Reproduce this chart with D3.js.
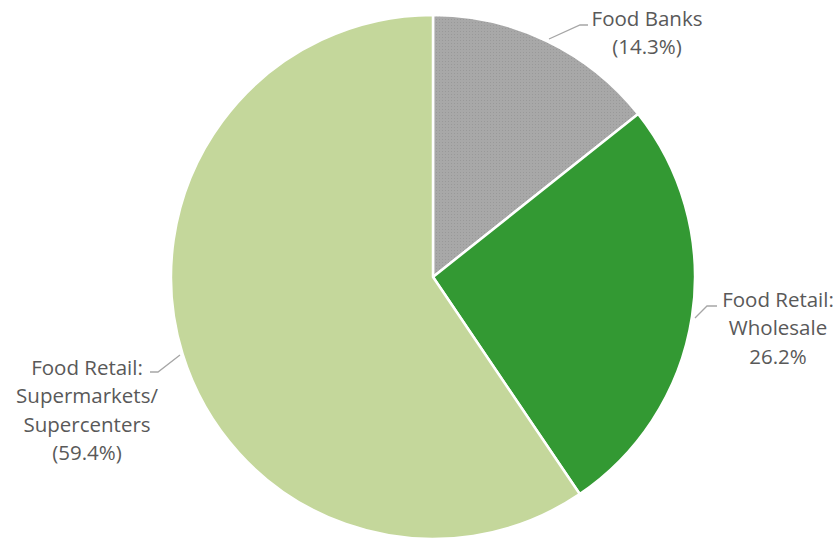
<!DOCTYPE html>
<html><head><meta charset="utf-8">
<script src="https://cdn.jsdelivr.net/npm/d3@7"></script>
<style>body{margin:0;background:#fff}svg{display:block}</style>
</head><body>
<svg id="c" width="839" height="542"></svg>
<script>
const categories = ["Food Banks", "Food Retail: Wholesale", "Food Retail: Supermarkets/Supercenters"];
const values = [14.3, 26.2, 59.4];
const labelLines = [
  ["Food Banks", "(14.3%)"],
  ["Food Retail:", "Wholesale", "26.2%"],
  ["Food Retail:", "Supermarkets/", "Supercenters", "(59.4%)"]
];
const colors = ["#a5a5a5", "#339933", "#c4d79b"];

const svg = d3.select("#c");
const cx = 433, cy = 277, r = 262;
const g = svg.append("g").attr("transform", `translate(${cx},${cy})`);

const defs = svg.append("defs");
const pat = defs.append("pattern").attr("id","dots").attr("width",3).attr("height",3).attr("patternUnits","userSpaceOnUse");
pat.append("rect").attr("width",3).attr("height",3).attr("fill","#a8a8a8");
pat.append("rect").attr("width",1).attr("height",1).attr("fill","#999999");

const pie = d3.pie().sort(null).value(d => d);
const arcs = pie(values);
const arc = d3.arc().innerRadius(0).outerRadius(r);

g.selectAll("path").data(arcs).join("path")
  .attr("d", arc)
  .attr("fill", (d,i) => i === 0 ? "url(#dots)" : colors[i])
  .attr("stroke", "#fff").attr("stroke-width", 2.5).attr("stroke-linejoin","round");

const labelPos = [
  {x: 647 - cx, y: 19 - cy},
  {x: 778 - cx, y: 300 - cy},
  {x: 87 - cx, y: 368 - cy}
];
const leaders = [
  {p: [549 - cx, 39 - cy], e: [580 - cx, 25 - cy], t: [588 - cx, 25 - cy]},
  {p: [695 - cx, 318 - cy], e: [707 - cx, 306 - cy], t: [717 - cx, 306 - cy]},
  {p: [180 - cx, 355 - cy], e: [158 - cx, 372 - cy], t: [150 - cx, 372 - cy]}
];
const lh = 28.3;
arcs.forEach((a, i) => {
  const L = leaders[i];
  g.append("polyline")
    .attr("points", [L.p, L.e, L.t].map(p => p.join(",")).join(" "))
    .attr("fill","none").attr("stroke","#a6a6a6").attr("stroke-width",1.3);
  const t = g.append("text")
    .attr("text-anchor", "middle")
    .attr("font-family", "'Open Sans', sans-serif")
    .attr("font-size", 20.5)
    .attr("fill", "#595959");
  labelLines[i].forEach((s, j) => {
    t.append("tspan").attr("x", labelPos[i].x).attr("y", labelPos[i].y + j*lh)
      .attr("dy", "0.35em").text(s);
  });
});
</script>
</body></html>
